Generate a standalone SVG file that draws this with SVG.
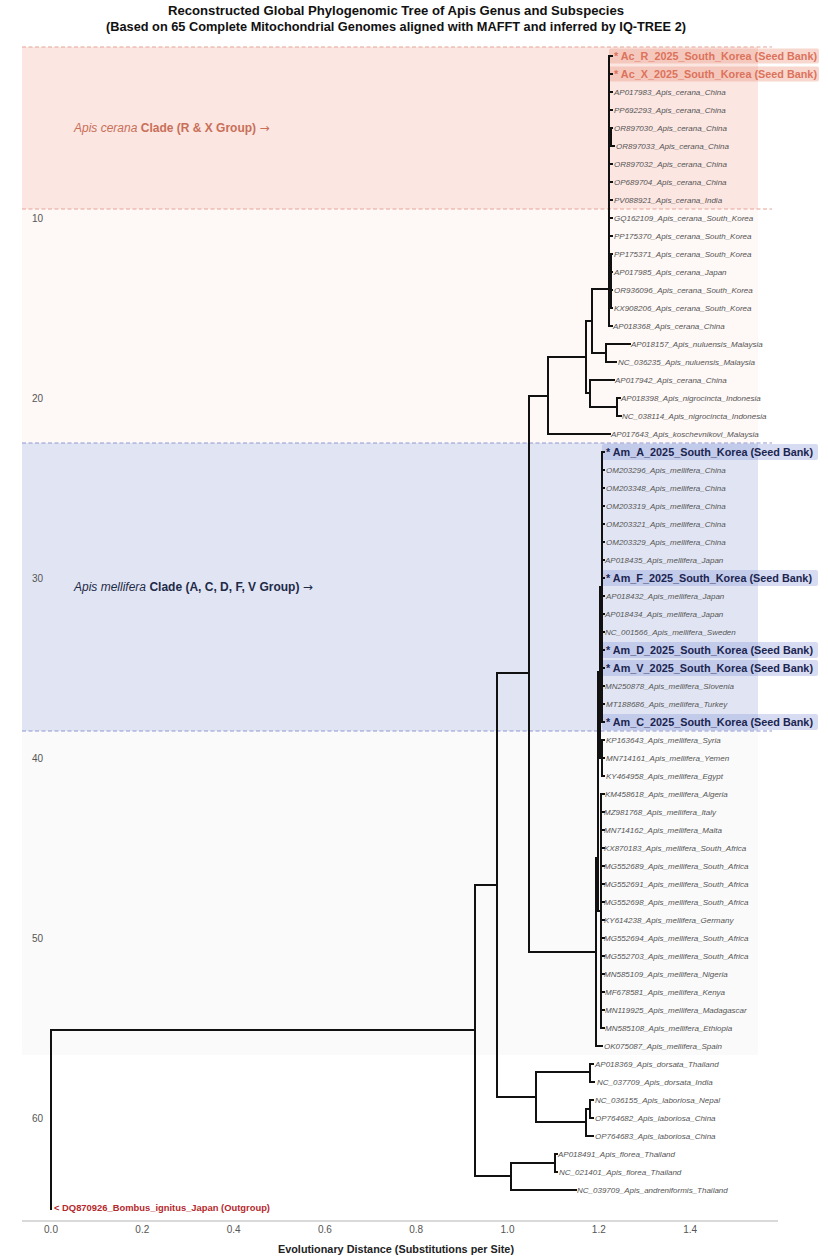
<svg xmlns="http://www.w3.org/2000/svg" width="828" height="1260" viewBox="0 0 828 1260">
<style>
text{font-family:"Liberation Sans",Arial,sans-serif}
.title{font-size:13px;font-weight:bold;fill:#111}
.leaf{font-size:8px;font-style:italic;fill:#555}
.seedC{font-size:11px;font-weight:bold;fill:#dc735c}
.seedM{font-size:11px;font-weight:bold;fill:#1b2550}
.tick{font-size:10px;fill:#555}
.arr{font-family:"DejaVu Sans",sans-serif;font-weight:normal;font-style:normal}
.tree{fill:none;stroke:#111;stroke-width:2;stroke-linecap:square}
.dashC{stroke:#e6a497;stroke-width:1.2;stroke-dasharray:4 2.5}
.dashM{stroke:#8f98cf;stroke-width:1.2;stroke-dasharray:4 2.5}
.hlC{fill:#ee9a88;opacity:0.4}
.hlM{fill:#8d9bdc;opacity:0.35}
</style>
<rect width="828" height="1260" fill="#ffffff"/>
<g id="title">
<text class="title" x="396" y="15" text-anchor="middle" textLength="456" lengthAdjust="spacingAndGlyphs">Reconstructed Global Phylogenomic Tree of Apis Genus and Subspecies</text>
<text class="title" x="396" y="31" text-anchor="middle" textLength="580" lengthAdjust="spacingAndGlyphs">(Based on 65 Complete Mitochondrial Genomes aligned with MAFFT and inferred by IQ-TREE 2)</text>
</g>
<g id="bands">
<rect x="22" y="47" width="736" height="162" fill="#fbe6e2"/>
<rect x="22" y="209" width="736" height="234" fill="#fef8f6"/>
<rect x="22" y="443" width="736" height="288" fill="#e1e5f3"/>
<rect x="22" y="731" width="736" height="324" fill="#fafafa"/>
<line class="dashC" x1="22" y1="47" x2="772" y2="47"/>
<line class="dashC" x1="22" y1="209" x2="772" y2="209"/>
<line class="dashM" x1="22" y1="443" x2="772" y2="443"/>
<line class="dashM" x1="22" y1="731" x2="772" y2="731"/>
</g>
<g id="clade-labels">
<text x="74" y="132" font-size="12" fill="#c96f58"><tspan font-style="italic">Apis cerana</tspan> <tspan font-weight="bold">Clade (R &amp; X Group)</tspan> <tspan class="arr">→</tspan></text>
<text x="74" y="591" font-size="12" fill="#1e2a48"><tspan font-style="italic">Apis mellifera</tspan> <tspan font-weight="bold">Clade (A, C, D, F, V Group)</tspan> <tspan class="arr">→</tspan></text>
</g>
<g id="highlights">
<rect class="hlC" x="609" y="48.5" width="210" height="15" rx="2"/>
<rect class="hlC" x="609" y="66.5" width="210" height="15" rx="2"/>
<rect class="hlM" x="602" y="444" width="216" height="16" rx="2"/>
<rect class="hlM" x="602" y="570" width="216" height="16" rx="2"/>
<rect class="hlM" x="602" y="642" width="216" height="16" rx="2"/>
<rect class="hlM" x="602" y="660" width="216" height="16" rx="2"/>
<rect class="hlM" x="602" y="714" width="216" height="16" rx="2"/>
</g>
<g id="connectors">
<path class="tree" d="M51,1030 V1209 M51,1030 H475 M475,885 V1176 M475,1176 H511 M511,1163 V1190 M511,1163 H555 M555,1154 V1172 M555,1154 H557 M555,1172 H557 M511,1190 H576
M475,885 H497 M497,673 V1097 M497,1097 H536 M536,1072 V1122 M536,1072 H590 M590,1064 V1082 M590,1064 H593 M590,1082 H594
M536,1122 H586 M586,1109 V1136 M586,1136 H593 M586,1109 H590 M590,1100 V1118 M590,1100 H593 M590,1118 H593
M497,673 H529 M529,396 V952 M529,396 H548 M548,357 V434 M548,434 H610 M548,357 H586 M586,321 V393 M586,393 H590 M590,380 V407 M590,380 H614 M590,407 H617 M617,398 V416 M617,398 H620 M617,416 H621
M586,321 H592 M592,289 V353 M592,353 H606 M606,344 V362 M606,344 H630 M606,362 H616 M592,289 H609
M609,56 V326 M609,56 H612 M609,74 H612 M609,92 H612 M609,110 H612 M609,128 H612 M609,146 H612 M609,164 H612 M609,182 H612 M609,200 H612 M609,218 H612 M609,236 H612 M609,254 H612 M609,272 H612 M609,290 H612 M609,308 H612 M609,326 H612
M611,254 V308 M611,128 V146 M611,146 H614
M529,952 H596 M596,858 V1046 M596,1046 H602 M596,858 H598 M598,672 V911 M598,911 H601 M601,794 V1028
M601,794 H604 M601,812 H604 M601,830 H604 M601,848 H604 M601,866 H604 M601,884 H604 M601,902 H604 M601,920 H604 M601,938 H604 M601,956 H604 M601,974 H604 M601,992 H604 M601,1010 H604 M601,1028 H604
M598,672 H600 M600,587 V758 M600,758 H602 M602,740 V776 M602,740 H604 M602,758 H604 M602,776 H604
M600,587 H602 M602,452 V722
M602,452 H604 M602,470 H604 M602,488 H604 M602,506 H604 M602,524 H604 M602,542 H604 M602,560 H604 M602,578 H604 M602,596 H604 M602,614 H604 M602,632 H604 M602,650 H604 M602,668 H604 M602,686 H604 M602,704 H604 M602,722 H604"/>
</g>
<g id="leaves-cerana">
<text id="n1" class="seedC" x="614" y="60" textLength="203" lengthAdjust="spacingAndGlyphs">* Ac_R_2025_South_Korea (Seed Bank)</text>
<text id="n2" class="seedC" x="614" y="78" textLength="203" lengthAdjust="spacingAndGlyphs">* Ac_X_2025_South_Korea (Seed Bank)</text>
<text id="n3" class="leaf" x="614" y="95">AP017983_Apis_cerana_China</text>
<text id="n4" class="leaf" x="614" y="113">PP692293_Apis_cerana_China</text>
<text id="n5" class="leaf" x="614" y="131">OR897030_Apis_cerana_China</text>
<text id="n6" class="leaf" x="616" y="149">OR897033_Apis_cerana_China</text>
<text id="n7" class="leaf" x="614" y="167">OR897032_Apis_cerana_China</text>
<text id="n8" class="leaf" x="614" y="185">OP689704_Apis_cerana_China</text>
<text id="n9" class="leaf" x="614" y="203">PV088921_Apis_cerana_India</text>
<text id="n10" class="leaf" x="614" y="221">GQ162109_Apis_cerana_South_Korea</text>
<text id="n11" class="leaf" x="614" y="239">PP175370_Apis_cerana_South_Korea</text>
<text id="n12" class="leaf" x="614" y="257">PP175371_Apis_cerana_South_Korea</text>
<text id="n13" class="leaf" x="614" y="275">AP017985_Apis_cerana_Japan</text>
<text id="n14" class="leaf" x="614" y="293">OR936096_Apis_cerana_South_Korea</text>
<text id="n15" class="leaf" x="614" y="311">KX908206_Apis_cerana_South_Korea</text>
<text id="n16" class="leaf" x="613" y="329">AP018368_Apis_cerana_China</text>
<text id="n17" class="leaf" x="631" y="347">AP018157_Apis_nuluensis_Malaysia</text>
<text id="n18" class="leaf" x="618" y="365">NC_036235_Apis_nuluensis_Malaysia</text>
<text id="n19" class="leaf" x="615" y="383">AP017942_Apis_cerana_China</text>
<text id="n20" class="leaf" x="621" y="401">AP018398_Apis_nigrocincta_Indonesia</text>
<text id="n21" class="leaf" x="622" y="419">NC_038114_Apis_nigrocincta_Indonesia</text>
<text id="n22" class="leaf" x="611" y="437">AP017643_Apis_koschevnikovi_Malaysia</text>
</g>
<g id="leaves-mellifera">
<text id="n23" class="seedM" x="606" y="456" textLength="207" lengthAdjust="spacingAndGlyphs">* Am_A_2025_South_Korea (Seed Bank)</text>
<text id="n24" class="leaf" x="606" y="473">OM203296_Apis_mellifera_China</text>
<text id="n25" class="leaf" x="606" y="491">OM203348_Apis_mellifera_China</text>
<text id="n26" class="leaf" x="606" y="509">OM203319_Apis_mellifera_China</text>
<text id="n27" class="leaf" x="606" y="527">OM203321_Apis_mellifera_China</text>
<text id="n28" class="leaf" x="606" y="545">OM203329_Apis_mellifera_China</text>
<text id="n29" class="leaf" x="605" y="563">AP018435_Apis_mellifera_Japan</text>
<text id="n30" class="seedM" x="606" y="582" textLength="206" lengthAdjust="spacingAndGlyphs">* Am_F_2025_South_Korea (Seed Bank)</text>
<text id="n31" class="leaf" x="606" y="599">AP018432_Apis_mellifera_Japan</text>
<text id="n32" class="leaf" x="605" y="617">AP018434_Apis_mellifera_Japan</text>
<text id="n33" class="leaf" x="605" y="635">NC_001566_Apis_mellifera_Sweden</text>
<text id="n34" class="seedM" x="606" y="654" textLength="207" lengthAdjust="spacingAndGlyphs">* Am_D_2025_South_Korea (Seed Bank)</text>
<text id="n35" class="seedM" x="606" y="672" textLength="207" lengthAdjust="spacingAndGlyphs">* Am_V_2025_South_Korea (Seed Bank)</text>
<text id="n36" class="leaf" x="605" y="689">MN250878_Apis_mellifera_Slovenia</text>
<text id="n37" class="leaf" x="606" y="707">MT188686_Apis_mellifera_Turkey</text>
<text id="n38" class="seedM" x="606" y="726" textLength="207" lengthAdjust="spacingAndGlyphs">* Am_C_2025_South_Korea (Seed Bank)</text>
<text id="n39" class="leaf" x="606" y="743">KP163643_Apis_mellifera_Syria</text>
<text id="n40" class="leaf" x="606" y="761">MN714161_Apis_mellifera_Yemen</text>
<text id="n41" class="leaf" x="606" y="779">KY464958_Apis_mellifera_Egypt</text>
<text id="n42" class="leaf" x="605" y="797">KM458618_Apis_mellifera_Algeria</text>
<text id="n43" class="leaf" x="604" y="815">MZ981768_Apis_mellifera_Italy</text>
<text id="n44" class="leaf" x="604" y="833">MN714162_Apis_mellifera_Malta</text>
<text id="n45" class="leaf" x="604" y="851">KX870183_Apis_mellifera_South_Africa</text>
<text id="n46" class="leaf" x="604" y="869">MG552689_Apis_mellifera_South_Africa</text>
<text id="n47" class="leaf" x="604" y="887">MG552691_Apis_mellifera_South_Africa</text>
<text id="n48" class="leaf" x="604" y="905">MG552698_Apis_mellifera_South_Africa</text>
<text id="n49" class="leaf" x="604" y="923">KY614238_Apis_mellifera_Germany</text>
<text id="n50" class="leaf" x="604" y="941">MG552694_Apis_mellifera_South_Africa</text>
<text id="n51" class="leaf" x="604" y="959">MG552703_Apis_mellifera_South_Africa</text>
<text id="n52" class="leaf" x="604" y="977">MN585109_Apis_mellifera_Nigeria</text>
<text id="n53" class="leaf" x="605" y="995">MF678581_Apis_mellifera_Kenya</text>
<text id="n54" class="leaf" x="605" y="1013">MN119925_Apis_mellifera_Madagascar</text>
<text id="n55" class="leaf" x="605" y="1031">MN585108_Apis_mellifera_Ethiopia</text>
<text id="n56" class="leaf" x="604" y="1049">OK075087_Apis_mellifera_Spain</text>
</g>
<g id="leaves-other">
<text id="n57" class="leaf" x="595" y="1067">AP018369_Apis_dorsata_Thailand</text>
<text id="n58" class="leaf" x="597" y="1085">NC_037709_Apis_dorsata_India</text>
<text id="n59" class="leaf" x="595" y="1103">NC_036155_Apis_laboriosa_Nepal</text>
<text id="n60" class="leaf" x="595" y="1121">OP764682_Apis_laboriosa_China</text>
<text id="n61" class="leaf" x="595" y="1139">OP764683_Apis_laboriosa_China</text>
<text id="n62" class="leaf" x="558" y="1157">AP018491_Apis_florea_Thailand</text>
<text id="n63" class="leaf" x="559" y="1175">NC_021401_Apis_florea_Thailand</text>
<text id="n64" class="leaf" x="577" y="1193">NC_039709_Apis_andreniformis_Thailand</text>
<text id="n65" x="54" y="1211" font-size="9" font-weight="bold" fill="#b5282c" textLength="216" lengthAdjust="spacingAndGlyphs">&lt; DQ870926_Bombus_ignitus_Japan (Outgroup)</text>
</g>
<g id="axes">
<line x1="22" y1="1221" x2="778" y2="1221" stroke="#cccccc" stroke-width="1.5"/>
<text class="tick" x="51" y="1233" text-anchor="middle">0.0</text>
<text class="tick" x="142.3" y="1233" text-anchor="middle">0.2</text>
<text class="tick" x="233.6" y="1233" text-anchor="middle">0.4</text>
<text class="tick" x="324.9" y="1233" text-anchor="middle">0.6</text>
<text class="tick" x="416.2" y="1233" text-anchor="middle">0.8</text>
<text class="tick" x="507.5" y="1233" text-anchor="middle">1.0</text>
<text class="tick" x="598.8" y="1233" text-anchor="middle">1.2</text>
<text class="tick" x="690.1" y="1233" text-anchor="middle">1.4</text>
<text class="tick" x="43" y="222" text-anchor="end">10</text>
<text class="tick" x="43" y="402" text-anchor="end">20</text>
<text class="tick" x="43" y="582" text-anchor="end">30</text>
<text class="tick" x="43" y="762" text-anchor="end">40</text>
<text class="tick" x="43" y="942" text-anchor="end">50</text>
<text class="tick" x="43" y="1122" text-anchor="end">60</text>
<text x="396" y="1253" text-anchor="middle" font-size="11" font-weight="bold" fill="#222" textLength="236" lengthAdjust="spacingAndGlyphs">Evolutionary Distance (Substitutions per Site)</text>
</g>
</svg>
